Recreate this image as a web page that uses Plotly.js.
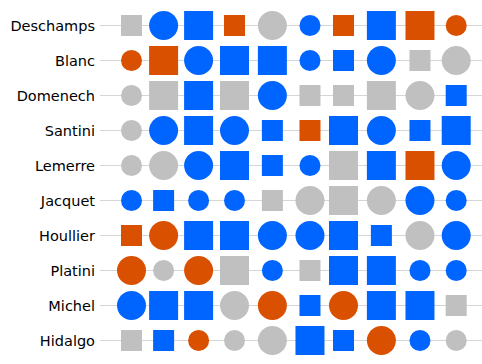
<!DOCTYPE html>
<html>
<head>
<meta charset="utf-8">
<script src="https://cdn.plot.ly/plotly-3.0.1.min.js"></script>
<style>html,body{margin:0;padding:0;background:#fff;}#chart{width:482px;height:364px;}</style>
</head>
<body>
<div id="chart"></div>
<script>
// Coaches (rows, top to bottom)
const coaches = ['Deschamps','Blanc','Domenech','Santini','Lemerre','Jacquet','Houllier','Platini','Michel','Hidalgo'];

// Match slot position of each of the 10 columns (match index scale)
const matchSlot = [0, 0.89, 1.86, 2.855, 3.905, 4.947, 5.876, 6.926, 7.996, 9.0];

// Result per match: W = win, D = draw, L = loss
const results = [
  ['D','W','W','L','D','W','L','W','L','L'],
  ['L','L','W','W','W','W','W','W','D','D'],
  ['D','D','W','D','W','D','D','D','D','W'],
  ['D','W','W','W','W','L','W','W','W','W'],
  ['D','D','W','W','W','W','D','W','L','W'],
  ['W','W','W','W','D','D','D','D','W','W'],
  ['L','L','W','W','W','W','W','W','D','W'],
  ['L','D','L','D','W','D','W','W','W','W'],
  ['W','W','W','D','L','W','L','W','W','D'],
  ['D','W','L','D','D','W','W','L','W','D']
];

// Venue per match: H = home (circle), A = away (square)
const venues = [
  ['A','H','A','A','H','H','A','A','A','H'],
  ['H','A','H','A','A','H','A','H','A','H'],
  ['H','A','A','A','H','A','A','A','H','A'],
  ['H','H','A','H','A','A','A','H','A','A'],
  ['H','H','H','A','A','H','A','A','A','H'],
  ['H','A','H','H','A','H','A','H','H','H'],
  ['A','H','A','A','H','H','A','A','H','H'],
  ['H','H','H','A','H','A','A','A','H','H'],
  ['H','A','A','H','H','A','H','A','A','A'],
  ['A','A','H','H','H','A','A','H','H','H']
];

// Importance per match: 1 = minor, 2 = major
const importance = [
  [1,2,2,1,2,1,1,2,2,1],
  [1,2,2,2,2,1,1,2,1,2],
  [1,2,2,2,2,1,1,2,2,1],
  [1,2,2,2,1,1,2,2,1,2],
  [1,2,2,2,1,1,2,2,2,2],
  [1,1,1,1,1,2,2,2,2,1],
  [1,2,2,2,2,2,2,1,2,2],
  [2,1,2,2,1,1,2,2,1,1],
  [2,2,2,2,2,1,2,2,2,1],
  [1,1,1,1,2,2,1,2,1,1]
];

const resultColor = {W: '#0064FF', D: '#C0C0C0', L: '#D95000'};
const venueSymbol = {H: 'circle', A: 'square'};
const importanceSize = {1: 21, 2: 29};

const traces = coaches.map((coach, i) => ({
  type: 'scatter',
  mode: 'markers',
  x: matchSlot,
  y: matchSlot.map(() => coach),
  marker: {
    color: results[i].map(r => resultColor[r]),
    symbol: venues[i].map(v => venueSymbol[v]),
    size: importance[i].map(s => importanceSize[s]),
    opacity: 1,
    line: {width: 0}
  },
  hoverinfo: 'skip',
  showlegend: false,
  cliponaxis: false
}));

const layout = {
  width: 482,
  height: 364,
  margin: {l: 100, r: 0, t: 8, b: 6, pad: 0},
  paper_bgcolor: '#ffffff',
  plot_bgcolor: '#ffffff',
  showlegend: false,
  font: {family: 'DejaVu Sans, Verdana, sans-serif', color: '#000000'},
  xaxis: {
    range: [-0.873, 9.715],
    visible: false,
    showgrid: false,
    zeroline: false,
    fixedrange: true
  },
  yaxis: {
    type: 'category',
    categoryorder: 'array',
    categoryarray: coaches,
    range: [9.5, -0.5],
    showgrid: true,
    gridcolor: '#d6d6d6',
    gridwidth: 1,
    zeroline: false,
    showline: false,
    ticks: '',
    ticklabelstandoff: 4,
    tickfont: {family: 'DejaVu Sans, Verdana, sans-serif', size: 14.5, color: '#000000'},
    fixedrange: true
  }
};

Plotly.newPlot('chart', traces, layout, {displayModeBar: false, staticPlot: true});
</script>
</body>
</html>
